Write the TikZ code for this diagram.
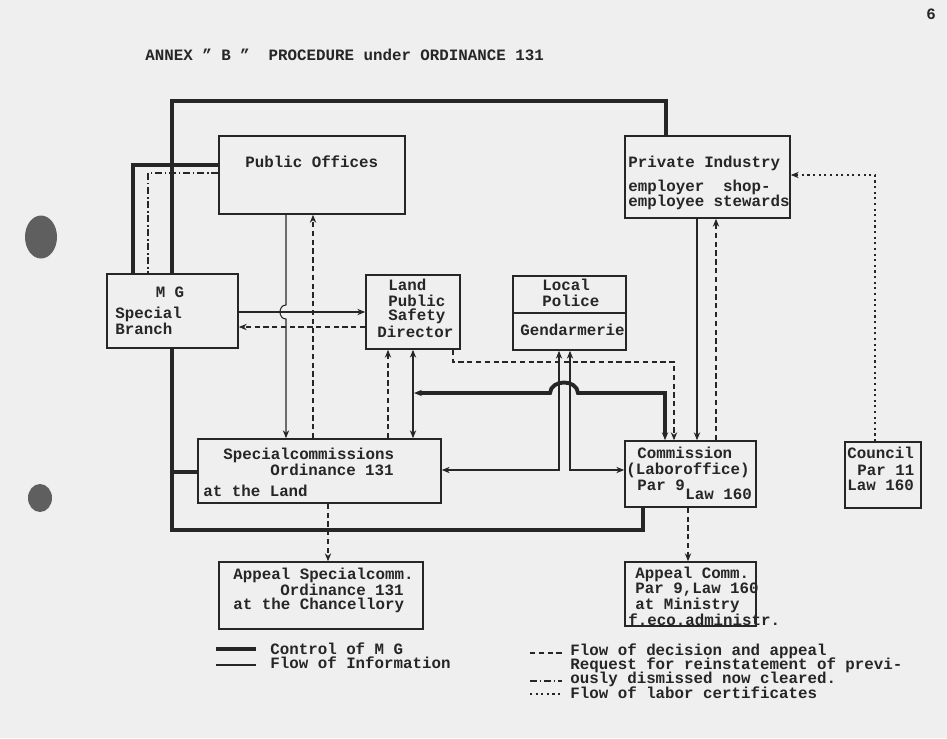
\documentclass[tikz,border=0pt]{standalone}
\usepackage{fontspec}
\setmainfont[Ligatures=NoCommon]{Liberation Mono}
\usetikzlibrary{fit,arrows.meta}
\definecolor{paper}{RGB}{239,239,239}
\definecolor{ink}{RGB}{38,38,38}
\definecolor{hole}{RGB}{95,95,95}
\begin{document}
\begin{tikzpicture}[x=0.02cm,y=-0.02cm,
  box/.style={draw=ink,line width=0.9pt,inner sep=0pt},
  txt/.style={inner sep=0pt,anchor=west,text=ink,font=\fontsize{9}{9}\selectfont\bfseries},
  tip/.style={-{Stealth[length=4.5pt,width=3.6pt]}},
  btip/.style={{Stealth[length=4.5pt,width=3.6pt]}-{Stealth[length=4.5pt,width=3.6pt]}},
  ctrl/.style={draw=ink,line width=2.2pt,line join=miter},
  info/.style={draw=ink,line width=0.6pt},
  decision/.style={draw=ink,line width=0.7pt,dash pattern=on 3pt off 2pt},
  request/.style={draw=ink,line width=0.7pt,dash pattern=on 4pt off 1.5pt on 1pt off 1.5pt},
  labor/.style={draw=ink,line width=0.7pt,dash pattern=on 1.2pt off 2pt}]
\useasboundingbox (0,0) rectangle (947,738);
\fill[paper] (0,0) rectangle (947,738);
\fill[hole] (41,237) ellipse [x radius=0.32cm, y radius=0.43cm];
\fill[hole] (40,498) ellipse [x radius=0.24cm, y radius=0.28cm];

% boxes
\node[box, fit={(219,136)(405,214)}] (po) {};
\node[box, fit={(625,136)(790,218)}] (pi) {};
\node[box, fit={(107,274)(238,348)}] (mg) {};
\node[box, fit={(366,275)(460,349)}] (lpsd) {};
\node[box, fit={(513,276)(626,350)}] (lp) {};
\draw[draw=ink,line width=0.9pt] (lp.west |- 0,313) -- (lp.east |- 0,313);
\node[box, fit={(198,439)(441,503)}] (sc) {};
\node[box, fit={(625,441)(756,507)}] (cm) {};
\node[box, fit={(845,442)(921,508)}] (cc) {};
\node[box, fit={(219,562)(423,629)}] (asc) {};
\node[box, fit={(625,562)(756,626)}] (acm) {};
\coordinate (jn) at (414,393);

% texts
\node[txt] (title) at (145,55) {ANNEX \symbol{34} B \symbol{34}\ \ PROCEDURE under ORDINANCE 131};
\node[txt] (page) at (926,14) {6};
\node[txt] (t-po) at (245,162) {Public Offices};
\node[txt] (t-pi1) at (628,163) {Private Industry};
\node[txt] (t-pi2) at (628,187) {employer\ \ shop-};
\node[txt] (t-pi3) at (628,202) {employee stewards};
\node[txt,anchor=center] (t-mg1) at (170,292) {M G};
\node[txt] (t-mg2) at (115,314) {Special};
\node[txt] (t-mg3) at (115,329) {Branch};
\node[txt] (t-l1) at (388,285) {Land};
\node[txt] (t-l2) at (388,301) {Public};
\node[txt] (t-l3) at (388,316) {Safety};
\node[txt] (t-l4) at (377,332) {Director};
\node[txt] (t-lp1) at (542,285) {Local};
\node[txt] (t-lp2) at (542,301) {Police};
\node[txt] (t-lp3) at (520,330) {Gendarmerie};
\node[txt] (t-sc1) at (223,455) {Specialcommissions};
\node[txt] (t-sc2) at (270,470) {Ordinance 131};
\node[txt] (t-sc3) at (203,491) {at the Land};
\node[txt] (t-cm1) at (637,453) {Commission};
\node[txt] (t-cm2) at (626,470) {(Laboroffice)};
\node[txt] (t-cm3) at (637,485) {Par 9};
\node[txt] (t-cm4) at (685,494) {Law 160};
\node[txt] (t-cc1) at (847,453) {Council};
\node[txt] (t-cc2) at (857,470) {Par 11};
\node[txt] (t-cc3) at (847,485) {Law 160};
\node[txt] (t-asc1) at (233,575) {Appeal Specialcomm.};
\node[txt] (t-asc2) at (280,590) {Ordinance 131};
\node[txt] (t-asc3) at (233,605) {at the Chancellory};
\node[txt] (t-acm1) at (635,574) {Appeal Comm.};
\node[txt] (t-acm2) at (635,590) {Par 9,Law 160};
\node[txt] (t-acm3) at (635,605) {at Ministry};
\node[txt] (t-acm4) at (628,620) {f.eco.administr.};

% control of M G (thick)
\draw[ctrl] (mg.north -| 172,0) -- (172,101) -- (666,101) -- (666,0 |- pi.north);
\draw[ctrl] (po.west |- 0,165) -- (133,165) -- (133,0 |- mg.north);
\draw[ctrl] (172,0 |- mg.south) -- (172,530) -- (643,530) -- (643,0 |- cm.south);
\draw[ctrl] (172,472) -- (sc.west |- 0,472);
\draw[ctrl,btip] (665,0 |- cm.north) -- (665,393) -- (578,393) .. controls (577,379) and (551,379) .. (550,393) -- (jn);

% request for reinstatement (dash-dot)
\draw[request] (po.west |- 0,173) -- (148,173) -- (148,0 |- mg.north);

% flow of information (thin)
\draw[info,tip] (286,0 |- po.south) -- (286,305) .. controls (278,305) and (278,319) .. (286,319) -- (286,0 |- sc.north);
\draw[info,tip] (mg.east |- 0,312) -- (lpsd.west |- 0,312);
\draw[info,btip] (413,0 |- sc.north) -- (413,0 |- lpsd.south);
\draw[info,btip] (559,0 |- lp.south) -- (559,470) -- (sc.east |- 0,470);
\draw[info,btip] (570,0 |- lp.south) -- (570,470) -- (cm.west |- 0,470);
\draw[info,tip] (697,0 |- pi.south) -- (697,0 |- cm.north);

% flow of decision and appeal (dashed)
\draw[decision,tip] (313,0 |- sc.north) -- (313,0 |- po.south);
\draw[decision,tip] (lpsd.west |- 0,327) -- (mg.east |- 0,327);
\draw[decision,tip] (388,0 |- sc.north) -- (388,0 |- lpsd.south);
\draw[decision,tip] (453,0 |- lpsd.south) -- (453,362) -- (674,362) -- (674,0 |- cm.north);
\draw[decision,tip] (716,0 |- cm.north) -- (716,0 |- pi.south);
\draw[decision,tip] (688,0 |- cm.south) -- (688,0 |- acm.north);
\draw[decision,tip] (328,0 |- sc.south) -- (328,0 |- asc.north);

% flow of labor certificates (dotted)
\draw[labor,tip] (875,0 |- cc.north) -- (875,175) -- (pi.east |- 0,175);

% legend
\draw[ctrl] (216,649) -- (256,649);
\draw[info] (216,665) -- (256,665);
\node[txt] (lg1) at (270,649) {Control of M G};
\node[txt] (lg2) at (270,663) {Flow of Information};
\draw[decision] (530,653) -- (562,653);
\draw[request] (530,681) -- (562,681);
\draw[labor] (530,694) -- (562,694);
\node[txt] (lg3) at (570,651) {Flow of decision and appeal};
\node[txt] (lg4) at (570,665) {Request for reinstatement of previ-};
\node[txt] (lg5) at (570,679) {ously dismissed now cleared.};
\node[txt] (lg6) at (570,693) {Flow of labor certificates};
\end{tikzpicture}
\end{document}
